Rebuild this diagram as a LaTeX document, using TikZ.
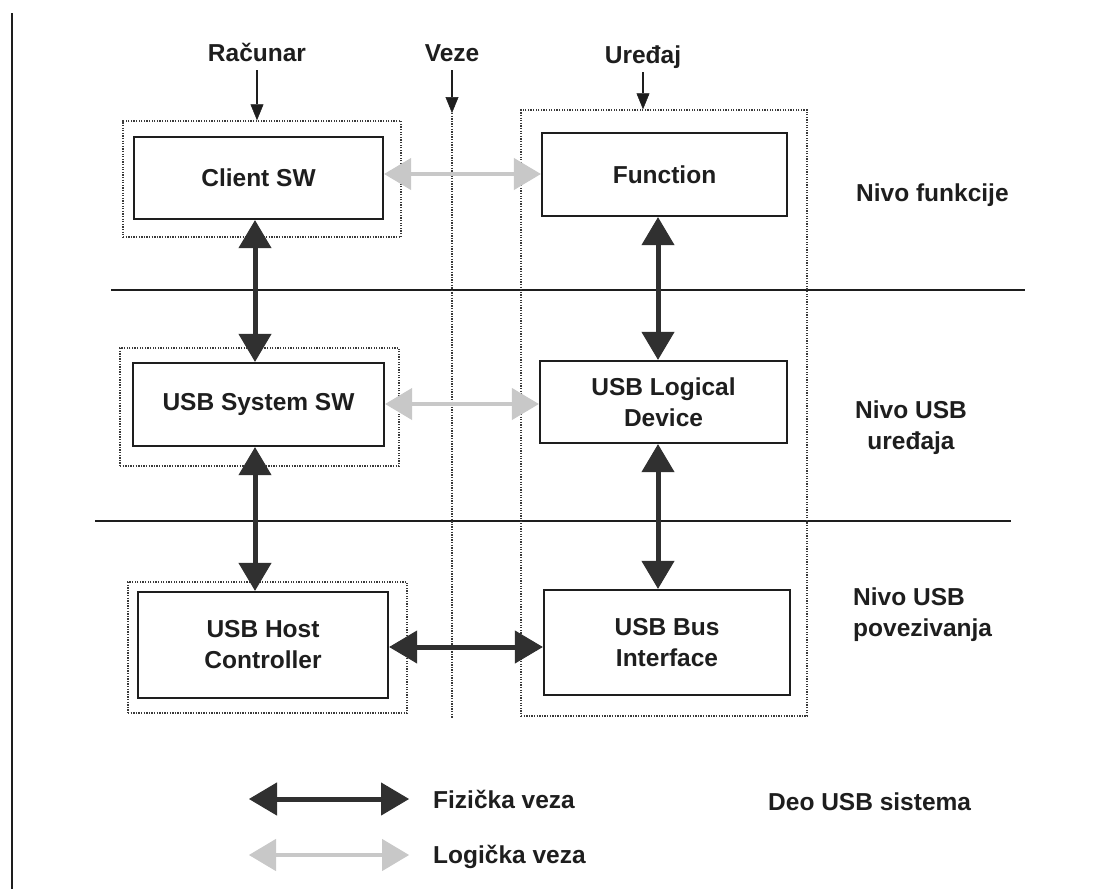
\documentclass[tikz,border=0pt]{standalone}
\usepackage{fontspec}
\setmainfont{Liberation Sans}
\usetikzlibrary{arrows.meta}
\definecolor{ink}{HTML}{1E1E1E}
\definecolor{physical}{HTML}{303030}
\definecolor{logical}{HTML}{C8C8C8}
\definecolor{groupline}{HTML}{3A3A3A}

\begin{document}
\begin{tikzpicture}[x=1pt,y=-1pt,
  txt/.style={font=\fontsize{24.5}{31}\selectfont\bfseries, text=ink, inner sep=0pt},
  unit/.style={txt, draw=ink, line width=2.4pt, align=center},
  group/.style={draw=groupline, line width=1.5pt, dash pattern=on 1.3pt off 1.3pt, inner sep=0pt},
  grouplink/.style={draw=groupline, line width=1.5pt, dash pattern=on 1.3pt off 1.3pt},
  physlink/.style={draw=physical, line width=5pt,
    {Triangle[length=28pt,width=33pt,line width=1pt,fill=physical]}-{Triangle[length=28pt,width=33pt,line width=1pt,fill=physical]}},
  loglink/.style={draw=logical, line width=4.5pt,
    {Triangle[length=27pt,width=32pt,line width=1pt,fill=logical]}-{Triangle[length=27pt,width=32pt,line width=1pt,fill=logical]}},
  pointer/.style={draw=ink, line width=1.6pt, -{Triangle[length=16pt,width=13pt,line width=0.5pt]}},
  level/.style={draw=ink, line width=1.8pt},
  heading/.style={txt, anchor=south, inner ysep=8pt, text depth=0pt}
]
% canvas
\fill[white] (0,0) rectangle (1105,889);
\useasboundingbox (0,0) rectangle (1105,889);

% page margin rule
\draw[draw=ink, line width=2pt] (12,13) -- (12,889);

% layer separators
\draw[level] (111,290) -- (1025,290);
\draw[level] (95,521) -- (1011,521);

% dotted groups
\node[group, minimum width=278pt, minimum height=116pt] (clientgrp) at (262,179) {};
\node[group, minimum width=279pt, minimum height=118pt] (sysgrp) at (259.5,407) {};
\node[group, minimum width=279pt, minimum height=131pt] (hostgrp) at (267.5,647.5) {};
\node[group, minimum width=286pt, minimum height=606pt] (devgrp) at (664,413) {};

% column headings
\node[heading] (racunar) at (257,70) {Računar};
\node[heading] (veze) at (452,70) {Veze};
\node[heading] (uredjaj) at (643,72) {Uređaj};
\coordinate (vezetop) at (452,113);
\coordinate (vezeend) at (452,718);
\draw[pointer] (racunar.south) -- (racunar.south |- clientgrp.north);
\draw[pointer] (veze.south) -- (vezetop);
\draw[grouplink] (vezetop) -- (vezeend);
\draw[pointer] (uredjaj.south) -- (uredjaj.south |- devgrp.north);

% units
\node[unit, minimum width=249pt, minimum height=82pt] (client) at (258.5,178) {Client SW};
\node[unit, minimum width=245pt, minimum height=83pt] (func) at (664.5,174.5) {Function};
\node[unit, minimum width=251pt, minimum height=83pt] (syssw) at (258.5,404.5) {USB System SW};
\node[unit, minimum width=247pt, minimum height=82pt] (logdev) at (663.5,402) {USB Logical\\Device};
\node[unit, minimum width=250pt, minimum height=106pt] (host) at (263,645) {USB Host\\Controller};
\node[unit, minimum width=246pt, minimum height=105pt] (busif) at (667,642.5) {USB Bus\\Interface};

% link routes
\coordinate (lcol) at (255,0);
\coordinate (rcol) at (658,0);
\coordinate (row1) at (0,174);
\coordinate (row2) at (0,404);
\coordinate (row3) at (0,647);

% physical links
\draw[physlink] (client.south -| lcol) -- (syssw.north -| lcol);
\draw[physlink] (syssw.south -| lcol) -- (host.north -| lcol);
\draw[physlink] (func.south -| rcol) -- (logdev.north -| rcol);
\draw[physlink] (logdev.south -| rcol) -- (busif.north -| rcol);
\draw[physlink] (host.east |- row3) -- (busif.west |- row3);

% logical links
\draw[loglink] (client.east |- row1) -- (func.west |- row1);
\draw[loglink] (syssw.east |- row2) -- (logdev.west |- row2);

% layer names
\node[txt, anchor=west] (lvlfunc) at (856,195.5) {Nivo funkcije};
\node[txt, anchor=west, align=center] (lvldev) at (855,428) {Nivo USB\\uređaja};
\node[txt, anchor=west, align=left] (lvlbus) at (853,615) {Nivo USB\\povezivanja};

% legend
\coordinate (physA) at (249,799);
\coordinate (physB) at (409,799);
\coordinate (logA) at (249,855);
\coordinate (logB) at (409,855);
\draw[physlink] (physA) -- (physB);
\draw[loglink] (logA) -- (logB);
\node[txt, anchor=west] (physlbl) at (433,799) {Fizička veza};
\node[txt, anchor=west] (loglbl) at (433,857) {Logička veza};
\node[txt, anchor=west] (grouplbl) at (768,802) {Deo USB sistema};
\end{tikzpicture}
\end{document}
